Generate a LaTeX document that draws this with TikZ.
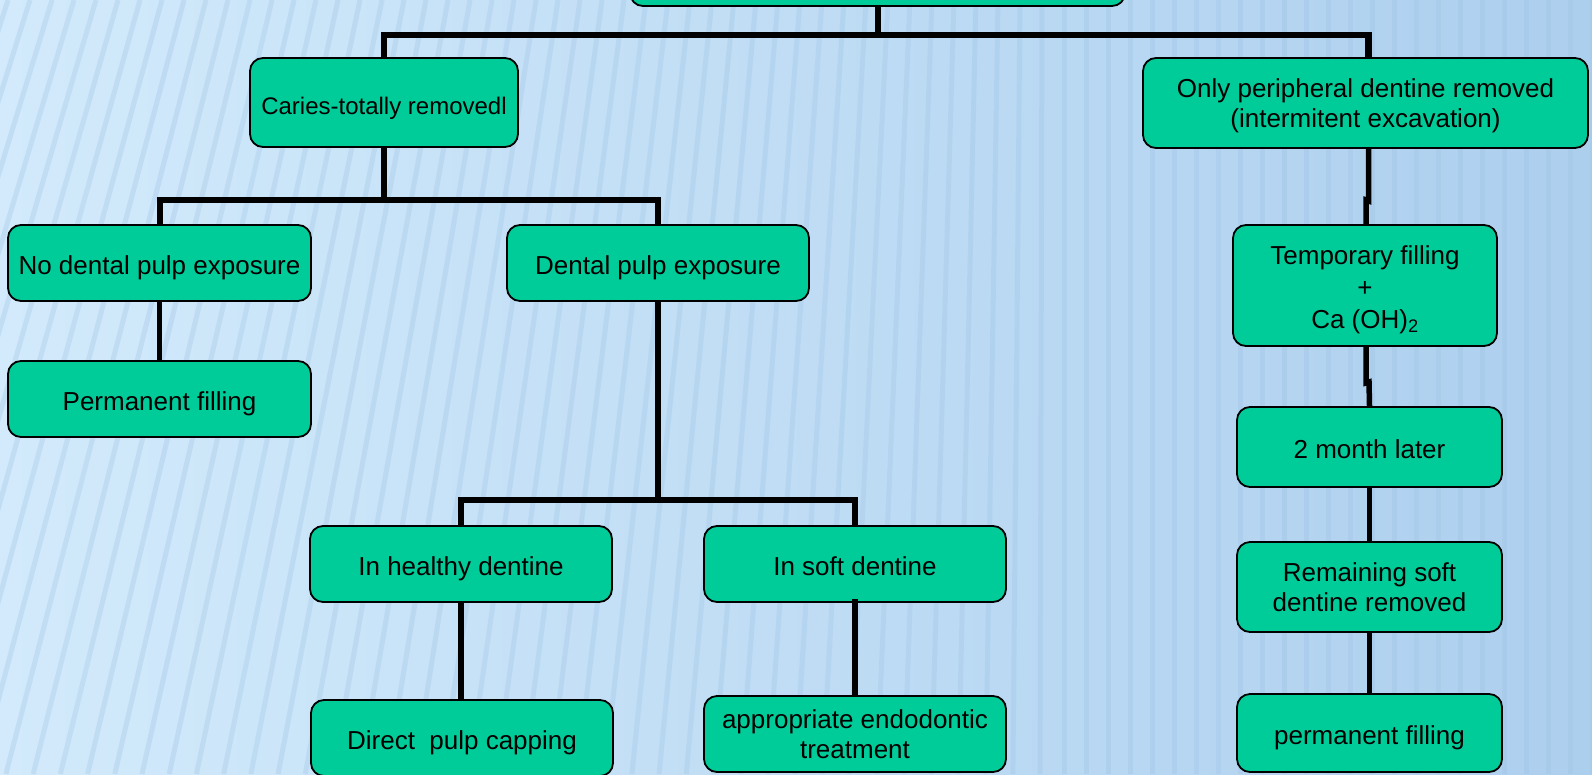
\documentclass[tikz,border=0pt]{standalone}
\usepackage{fontspec}
\setmainfont{Liberation Sans}
\definecolor{boxgreen}{HTML}{00CC99}
\definecolor{bgL}{HTML}{D2EAFB}
\definecolor{bgM}{HTML}{D9EFFD}
\definecolor{bgR}{HTML}{ADCFEE}
\definecolor{stripec}{HTML}{9CC2E4}
\begin{document}
\begin{tikzpicture}[x=1pt,y=-1pt,
  box/.style={draw=black, line width=1.8pt, fill=boxgreen, rounded corners=13pt,
    inner sep=0pt, align=center, text=black, font=\fontsize{26}{30.5}\selectfont},
  oneline/.style={text height=22pt, text depth=0pt},
  conn/.style={draw=black, line width=5.5pt},
  stripe/.style={draw=stripec, line width=5pt, opacity=0.3}]
\useasboundingbox (0,0) rectangle (1592,774);
\clip (0,0) rectangle (1592,774);
% background
\shade[left color=bgL, middle color=bgM, right color=bgR] (0,0) rectangle (1592,774);
\foreach \x in {-300,-278,...,1620} {
  \pgfmathsetmacro\s{max(0,320*(1-(\x+300)/1350))}
  \draw[stripe] (\x,0) -- (\x-\s,774);
}
% nodes
\node[box, minimum width=495, minimum height=60] (top) at (877.5,-24) {};
\node[box, minimum width=268, minimum height=89, font=\fontsize{24}{28}\selectfont, text height=23pt, text depth=0pt] (caries) at (384,102.5) {Caries-totally removedl};
\node[box, minimum width=445, minimum height=90] (periph) at (1365.5,103) {\rule{0pt}{24.5pt}Only peripheral dentine removed\\(intermitent excavation)};
\node[box, oneline, minimum width=303, minimum height=76] (nodental) at (159.5,263) {No dental pulp exposure};
\node[box, oneline, minimum width=302, minimum height=76] (dental) at (658,263) {Dental pulp exposure};
\node[box, oneline, minimum width=303, minimum height=76] (permfill) at (159.5,399) {Permanent filling};
\node[box, oneline, minimum width=302, minimum height=76] (healthy) at (461,564) {In healthy dentine};
\node[box, oneline, minimum width=302, minimum height=76] (soft) at (855,564) {In soft dentine};
\node[box, oneline, minimum width=302, minimum height=76] (direct) at (462,738) {Direct~ pulp capping};
\node[box, minimum width=302, minimum height=76] (endo) at (855,734) {appropriate endodontic\\treatment};
\node[box, minimum width=264, minimum height=121, font=\fontsize{26}{32}\selectfont] (temp) at (1365,285.5) {\rule{0pt}{27.5pt}Temporary filling\\+\\Ca (OH)\textsubscript{2}};
\node[box, oneline, minimum width=265, minimum height=80] (month) at (1369.5,447) {2 month later};
\node[box, minimum width=265, minimum height=90] (remain) at (1369.5,587) {Remaining soft\\dentine removed};
\node[box, oneline, minimum width=265, minimum height=78] (permfill2) at (1369.5,733) {permanent filling};
% junctions
\coordinate (j1) at (878,35);
\coordinate (j2) at (384,200);
\coordinate (j3) at (658,500);
% connectors
\draw[conn, line width=6.5pt] (j1 |- top.south) -- (j1);
\draw[conn, line width=6.5pt] (caries.north) |- (j1) -| ([xshift=3]periph.north);
\draw[conn] (caries.south) -- (j2);
\draw[conn, line width=6pt] (nodental.north) |- (j2) -| (dental.north);
\draw[conn] (nodental.south) -- (permfill.north);
\draw[conn] (dental.south) -- (j3);
\draw[conn, line width=6pt] (healthy.north) |- (j3) -| (soft.north);
\draw[conn] (healthy.south) -- (healthy.south |- direct.north);
\draw[conn] ([yshift=4]soft.south) -- (endo.north);
\draw[conn] ([xshift=3]periph.south) -- ++(0,52) -- ([xshift=1]temp.north |- 0,200) -- ([xshift=1]temp.north);
\draw[conn] ([xshift=1]temp.south) -- ++(0,36) -- ([xshift=4]temp.south |- 0,382) -- (month.north);
\draw[conn] (month.south) -- (remain.north);
\draw[conn] (remain.south) -- (permfill2.north);
\end{tikzpicture}
\end{document}
